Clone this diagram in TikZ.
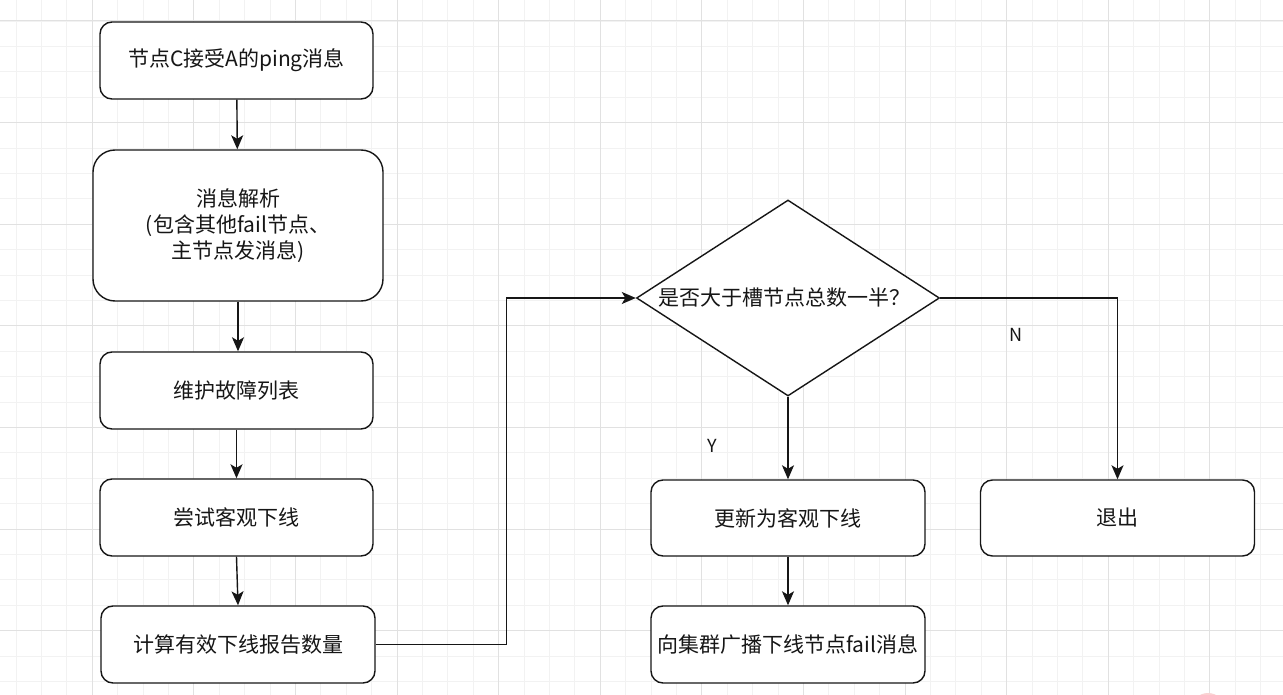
\documentclass[tikz,border=0pt]{standalone}
\usepackage{fontspec}
\setmainfont{Noto Sans CJK SC}
\usetikzlibrary{shapes.geometric,arrows.meta,calc}
\definecolor{gridminor}{HTML}{F2F2F2}
\definecolor{gridmajor}{HTML}{E1E1E1}
\definecolor{ink}{HTML}{161616}
\definecolor{blush}{HTML}{FAD2D2}
\begin{document}
\begin{tikzpicture}[x=1pt,y=-1pt,
  box/.style={draw=ink,line width=1.4pt,rounded corners=12pt,fill=white,
    minimum width=273pt,minimum height=77pt,inner sep=0pt,align=center,
    font=\fontsize{21}{26}\selectfont,text=ink},
  decision/.style={draw=ink,line width=1.4pt,diamond,fill=white,inner sep=0pt,
    minimum width=303pt,minimum height=196pt},
  lbl/.style={font=\fontsize{21}{24}\selectfont,text=ink,inner sep=0pt},
  flow/.style={draw=ink,line width=1.4pt,-{Stealth[length=14pt,width=12pt,inset=3.5pt]}},
  link/.style={draw=ink,line width=1.4pt}]
\useasboundingbox (0,0) rectangle (1283,695);
\fill[white] (0,0) rectangle (1283,695);
% grid
\foreach \k in {0,...,51}{
  \pgfmathsetmacro{\gx}{-9.4+25.4*\k}
  \draw[gridminor,line width=0.8pt] (\gx,0) -- (\gx,695);}
\foreach \k in {0,...,28}{
  \pgfmathsetmacro{\gy}{-4.4+25.4*\k}
  \draw[gridminor,line width=0.8pt] (0,\gy) -- (1283,\gy);}
\foreach \k in {0,...,12}{
  \pgfmathsetmacro{\gx}{-9.4+101.6*\k}
  \draw[gridmajor,line width=1pt] (\gx,0) -- (\gx,695);}
\foreach \k in {0,...,6}{
  \pgfmathsetmacro{\gy}{21+101.6*\k}
  \draw[gridmajor,line width=1pt] (0,\gy) -- (1283,\gy);}
\fill[blush] (1208,710) circle (17);
% nodes
\node[box] (b1) at (236.5,60.5) {节点C接受A的ping消息};
\node[box,minimum width=290pt,minimum height=151pt,rounded corners=22pt] (b2) at (238,225.5)
  {消息解析\\(包含其他fail节点、\\主节点发消息)};
\node[box] (b3) at (236.5,390.5) {维护故障列表};
\node[box] (b4) at (236.5,517.5) {尝试客观下线};
\node[box,minimum width=274pt] (b5) at (238,644.5) {计算有效下线报告数量};
\node[decision] (d) at (788,298) {};
\node[lbl] (dt) at (784,298) {是否大于槽节点总数一半？};
\node[box,minimum width=274pt,minimum height=76pt] (b6) at (788,518) {更新为客观下线};
\node[box,minimum width=274pt] (b7) at (788,644.5) {向集群广播下线节点fail消息};
\node[box,minimum width=274pt,minimum height=76pt] (ex) at (1117.5,518) {退出};
\node[lbl,font=\fontsize{18}{20}\selectfont] (ly) at (712,446) {Y};
\node[lbl,font=\fontsize{18}{20}\selectfont] (ln) at (1016,335) {N};
% connectors
\draw[flow] (b1) -- (b2);
\draw[flow] (b2) -- (b2 |- b3.north);
\draw[flow] (b3) -- (b4);
\draw[flow] (b4.south) -- (b5.north);
\draw[flow] (b5.east) -- ++(131,0) |- (d.west);
\draw[flow] (d.south) -- (b6.north);
\draw[flow] (d.east) -| (ex.north);
\draw[flow] (b6) -- (b7);
\end{tikzpicture}
\end{document}
